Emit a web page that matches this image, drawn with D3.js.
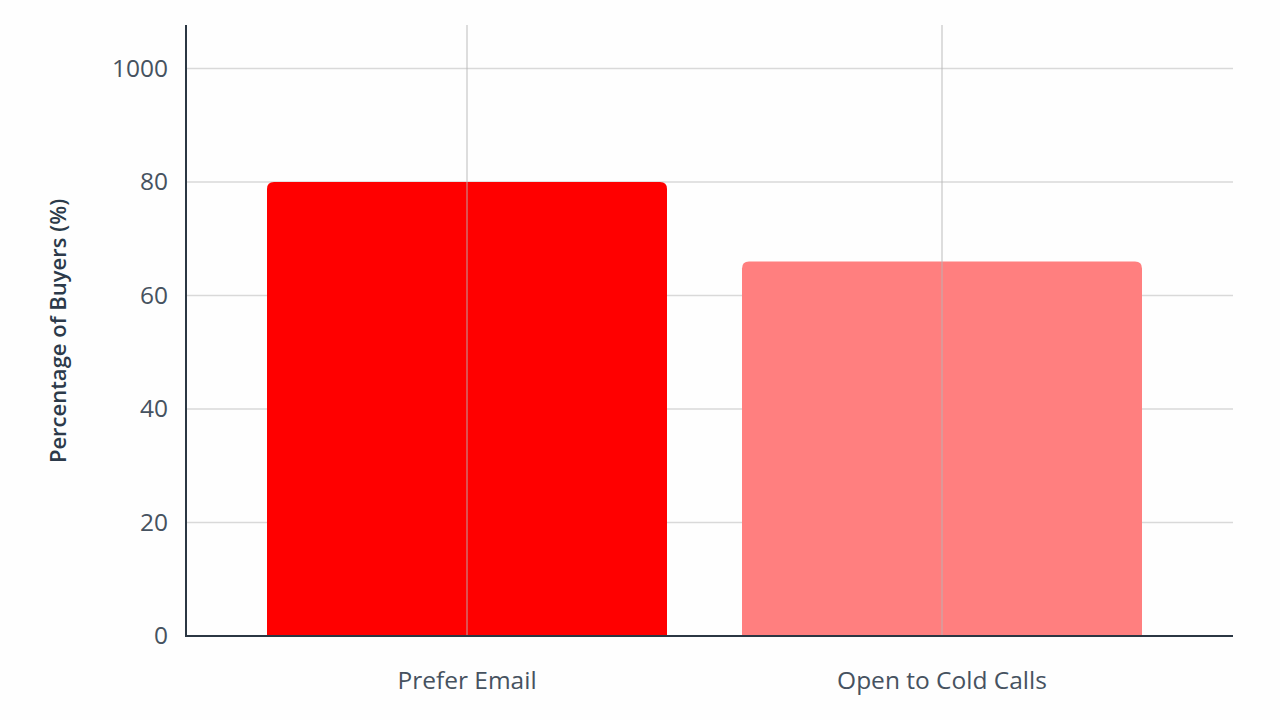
<!DOCTYPE html>
<html>
<head>
<meta charset="utf-8">
<script src="https://cdn.jsdelivr.net/npm/d3@7"></script>
<style>
  html, body { margin: 0; padding: 0; background: #fefefe; }
  svg { display: block; font-family: "Open Sans", "Noto Sans", sans-serif; }
</style>
</head>
<body>
<svg id="chart" width="1280" height="720"></svg>
<script>
// Data
const categories = ['Prefer Email', 'Open to Cold Calls'];
const values = [80, 66];
const barColors = ['#ff0000', '#ff7f7f'];
const yTicks = [0, 20, 40, 60, 80, 100];
const yTickLabels = ['0', '20', '40', '60', '80', '1000'];
const yTitle = 'Percentage of Buyers (%)';

const svg = d3.select('#chart');

// plot area
const plotLeft = 186, plotRight = 1233, plotTop = 25, plotBottom = 636;

const y = d3.scaleLinear()
    .domain([0, 107.65])
    .range([plotBottom, plotTop]);

const x = d3.scaleBand()
    .domain(categories)
    .range([229.5, 1179.5])
    .paddingInner(75 / 475)
    .paddingOuter(75 / 950);

// horizontal grid
svg.append('g')
    .selectAll('line')
    .data(yTicks.filter(d => d > 0))
    .enter()
    .append('line')
    .attr('x1', plotLeft)
    .attr('x2', plotRight)
    .attr('y1', d => y(d))
    .attr('y2', d => y(d))
    .attr('stroke', '#d9d9d9')
    .attr('stroke-width', 1.5);

// bars with rounded top corners
const r = 7;
function barPath(d) {
    const x0 = x(d.cat), w = x.bandwidth();
    const y0 = y(d.val), yb = y(0);
    return `M${x0},${yb} L${x0},${y0 + r} Q${x0},${y0} ${x0 + r},${y0} ` +
           `L${x0 + w - r},${y0} Q${x0 + w},${y0} ${x0 + w},${y0 + r} L${x0 + w},${yb} Z`;
}

svg.append('g')
    .selectAll('path')
    .data(categories.map((c, i) => ({ cat: c, val: values[i] })))
    .enter()
    .append('path')
    .attr('d', barPath)
    .attr('fill', (d, i) => barColors[i]);

// vertical grid lines at category centres (drawn over the bars)
svg.append('g')
    .selectAll('line')
    .data(categories)
    .enter()
    .append('line')
    .attr('x1', d => x(d) + x.bandwidth() / 2)
    .attr('x2', d => x(d) + x.bandwidth() / 2)
    .attr('y1', plotTop)
    .attr('y2', plotBottom)
    .attr('stroke', '#b4b4b4')
    .attr('stroke-opacity', 0.6)
    .attr('stroke-width', 1.5);

// y axis
const yAxis = d3.axisLeft(y)
    .tickValues(yTicks)
    .tickFormat((d, i) => yTickLabels[i])
    .tickSize(0)
    .tickPadding(18);

const yg = svg.append('g')
    .attr('transform', `translate(${plotLeft},0)`)
    .call(yAxis);
yg.select('.domain').remove();
yg.selectAll('text')
    .attr('font-size', 24.5)
    .attr('fill', '#465260')
    .attr('font-family', '"Open Sans", sans-serif');

// x axis
const xAxis = d3.axisBottom(x).tickSize(0).tickPadding(36);
const xg = svg.append('g')
    .attr('transform', `translate(0,${plotBottom})`)
    .call(xAxis);
xg.select('.domain').remove();
xg.selectAll('text')
    .attr('font-size', 24.5)
    .attr('fill', '#465260')
    .attr('font-family', '"Open Sans", sans-serif');

// axis lines
svg.append('path')
    .attr('d', `M${plotLeft},${plotTop} L${plotLeft},${plotBottom} L${plotRight},${plotBottom}`)
    .attr('fill', 'none')
    .attr('stroke', '#2b3743')
    .attr('stroke-width', 2);

// y axis title
svg.append('text')
    .attr('transform', `translate(66,${331}) rotate(-90)`)
    .attr('text-anchor', 'middle')
    .attr('font-size', 22)
    .attr('font-weight', 600)
    .attr('fill', '#2c3a4a')
    .text(yTitle);
</script>
</body>
</html>
